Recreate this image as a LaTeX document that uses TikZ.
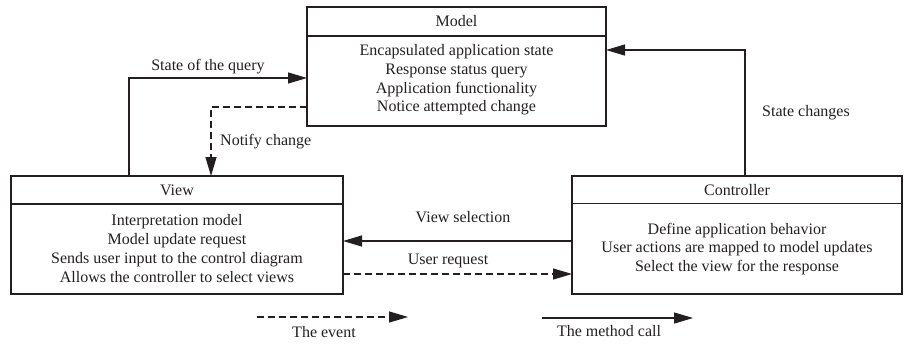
\documentclass[tikz,border=0pt]{standalone}
\usepackage{fontspec}
\setmainfont{Liberation Serif}
\usetikzlibrary{arrows.meta}
\definecolor{ink}{HTML}{231F20}
\begin{document}
\begin{tikzpicture}[x=1pt,y=-1pt,
  every node/.style={text=ink, font=\fontsize{16}{18.7}\selectfont},
  box/.style={draw=ink, line width=1.2pt, rectangle, inner sep=0pt, outer sep=0pt},
  txt/.style={align=center, inner sep=0pt},
  lbl/.style={inner sep=0pt},
  conn/.style={draw=ink, line width=1.2pt, -{Triangle[length=19pt,width=11pt]}},
  evt/.style={conn, dash pattern=on 7pt off 4pt},
]
\useasboundingbox (0,0) rectangle (904,345);

% Model
\node[box, minimum width=299pt, minimum height=119pt] (model) at (456.5,66.5) {};
\node[box, minimum width=299pt, minimum height=29pt, anchor=north] (modelhead) at (model.north) {Model};
\node[txt] (modeltext) at (456.5,80) {Encapsulated application state\\Response status query\\Application functionality\\Notice attempted change};

% View
\node[box, minimum width=332pt, minimum height=118pt] (view) at (177,235) {};
\node[box, minimum width=332pt, minimum height=28pt, anchor=north] (viewhead) at (view.north) {View};
\node[txt] (viewtext) at (177,248.5) {Interpretation model\\Model update request\\Sends user input to the control diagram\\Allows the controller to select views};

% Controller
\node[box, minimum width=330pt, minimum height=118pt] (controller) at (737,235) {};
\node[box, minimum width=330pt, minimum height=27.5pt, anchor=north] (controllerhead) at (controller.north) {Controller};
\node[txt] (controllertext) at (737,249) {Define application behavior\\User actions are mapped to model updates\\Select the view for the response};

% Bend points and levels of the connectors
\coordinate (sqbend) at (129,78);
\coordinate (ncbend) at (211,107);
\coordinate (scbend) at (745,50);
\coordinate (vslevel) at (0,241);
\coordinate (urlevel) at (0,274);

\draw[conn] (view.north -| sqbend) |- (model.west |- sqbend);
\draw[evt] (model.west |- ncbend) -| (view.north -| ncbend);
\draw[conn] (controller.north -| scbend) |- (model.east |- scbend);
\draw[conn] (controller.west |- vslevel) -- (view.east |- vslevel);
\draw[evt] (view.east |- urlevel) -- (controller.west |- urlevel);

\node[lbl] (sqlabel) at (208,67) {State of the query};
\node[lbl, anchor=west] (nclabel) at (220,142) {Notify change};
\node[lbl, anchor=west] (sclabel) at (762,113) {State changes};
\node[lbl] (vslabel) at (463,217) {View selection};
\node[lbl] (urlabel) at (448,261) {User request};

% Legend
\coordinate (ev1) at (257,317);
\coordinate (ev2) at (408,317);
\coordinate (mc1) at (542,318);
\coordinate (mc2) at (693,318);
\draw[evt] (ev1) -- (ev2);
\draw[conn] (mc1) -- (mc2);
\node[lbl] (evlabel) at (324,332) {The event};
\node[lbl] (mclabel) at (609,331) {The method call};
\end{tikzpicture}
\end{document}
